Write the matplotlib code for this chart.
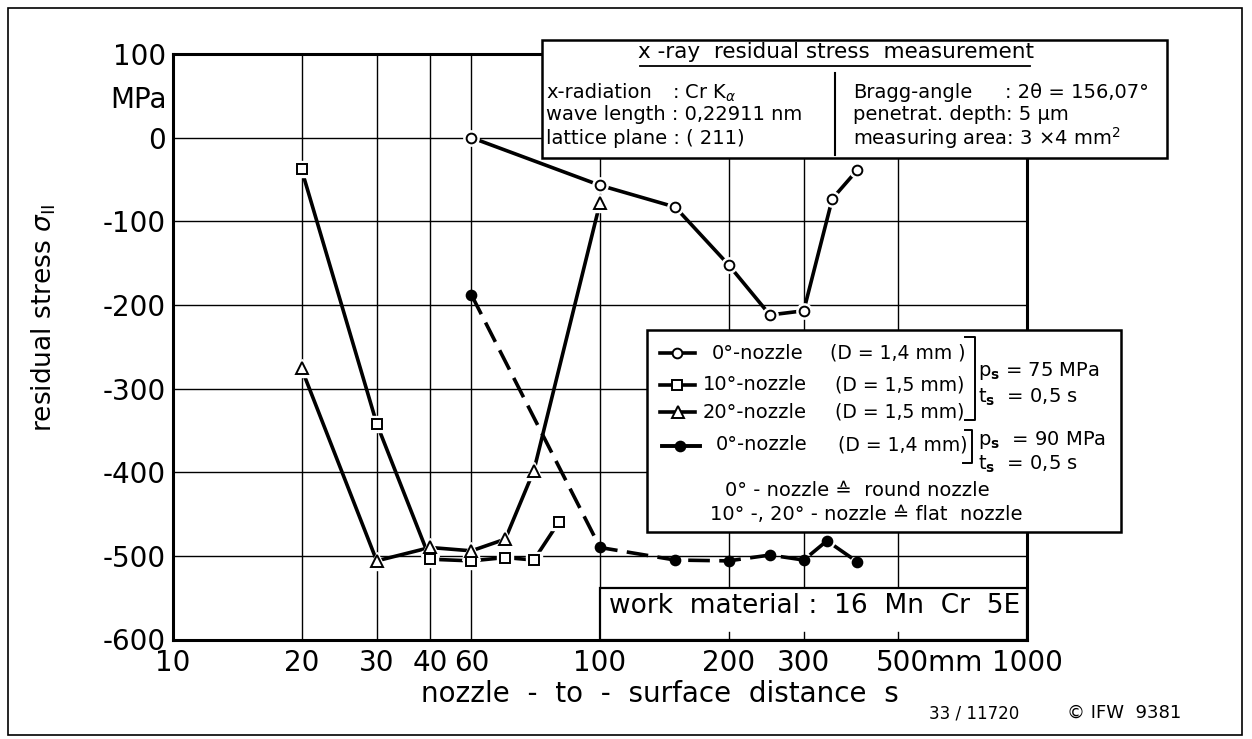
import matplotlib
matplotlib.use('Agg')
import matplotlib.pyplot as plt
import matplotlib.transforms as mtransforms
from matplotlib.patches import Rectangle
from matplotlib.lines import Line2D
from matplotlib.ticker import NullLocator

plt.rcParams['font.family'] = ['DejaVu Sans']
plt.rcParams['mathtext.fontset'] = 'dejavusans'

# ---------------- data ----------------
x_ticks = [10, 20, 30, 40, 50, 100, 200, 300, 500, 1000]
x_tick_labels = ['10', '20', '30', '40', '60', '100', '200', '300', '500mm', '1000']
y_ticks = [-600, -500, -400, -300, -200, -100, 0, 100]
y_tick_labels = ['-600', '-500', '-400', '-300', '-200', '-100', '0', '100']

# 0°-nozzle (D = 1,4 mm), p_s = 75 MPa
nozzle0_75_x = [50, 100, 150, 200, 250, 300, 350, 400]
nozzle0_75_y = [0, -57, -83, -152, -212, -207, -73, -39]
# 10°-nozzle (D = 1,5 mm), p_s = 75 MPa
nozzle10_x = [20, 30, 40, 50, 60, 70, 80]
nozzle10_y = [-38, -342, -504, -506, -502, -505, -460]
# 20°-nozzle (D = 1,5 mm), p_s = 75 MPa
nozzle20_x = [20, 30, 40, 50, 60, 70, 100]
nozzle20_y = [-276, -506, -490, -494, -480, -398, -78]
# 0°-nozzle (D = 1,4 mm), p_s = 90 MPa
nozzle0_90_x = [50, 100, 150, 200, 250, 300, 340, 400]
nozzle0_90_y = [-188, -490, -505, -506, -499, -505, -482, -507]

# ---------------- figure ----------------
W, H = 1252, 739
fig = plt.figure(figsize=(W / 100, H / 100), dpi=100)
fig.patch.set_facecolor('white')


def fx(p):
    return p / W


def fy(p):
    return 1 - p / H


ax = fig.add_axes([fx(173), fy(639.5), fx(1027) - fx(173), fy(54) - fy(639.5)])
ax.set_xscale('log')
ax.set_xlim(10, 1000)
ax.set_ylim(-600, 100)
ax.set_xticks(x_ticks)
ax.set_xticklabels(x_tick_labels, fontsize=20)
ax.xaxis.set_minor_locator(NullLocator())
ax.set_yticks(y_ticks)
ax.set_yticklabels(y_tick_labels, fontsize=20)
ax.grid(True, color='black', lw=1.0)
ax.tick_params(axis='x', direction='in', length=0, pad=7)
ax.tick_params(axis='y', length=0, pad=5)
for s in ax.spines.values():
    s.set_linewidth(2.2)

# shift "500mm" so that "500" is centred on its grid line
lab = ax.get_xticklabels()[8]
lab.set_ha('left')
lab.set_transform(lab.get_transform() +
                  mtransforms.ScaledTranslation(-0.23, 0, fig.dpi_scale_trans))


def series(x, y, marker, ms, filled, dashes=None):
    kw = dict(color='black', lw=2.6, solid_capstyle='butt', dash_capstyle='butt', zorder=3)
    if dashes is not None:
        ax.plot(x, y, ls='--', dashes=dashes, **kw)
    else:
        ax.plot(x, y, **kw)
    if not filled:
        ax.plot(x, y, ls='none', marker=marker, ms=ms + 4, mfc='white', mec='white', zorder=4)
    ax.plot(x, y, ls='none', marker=marker, ms=ms, mfc='black' if filled else 'white',
            mec='black', mew=1.4, zorder=5)


series(nozzle0_75_x, nozzle0_75_y, 'o', 7, False)
series(nozzle10_x, nozzle10_y, 's', 7, False)
series(nozzle20_x, nozzle20_y, '^', 8.5, False)
series(nozzle0_90_x, nozzle0_90_y, 'o', 7, True, dashes=(6, 2.6))

# work material box (bottom right inside the axes)
blend = mtransforms.blended_transform_factory(ax.transData, ax.transAxes)
wm = Rectangle((100, 0), 1000 - 100, (639.5 - 588) / (639.5 - 54),
               transform=blend, facecolor='white', edgecolor='black', lw=1.6, zorder=6)
ax.add_patch(wm)
for xt in [200, 300, 500]:
    ax.plot([xt, xt], [0, 0.012], color='black', lw=1.0, zorder=7, transform=blend)
fig.text(fx(815), fy(606), 'work  material :  16  Mn  Cr  5E', fontsize=19,
         ha='center', va='center', zorder=8)

# MPa unit under 100
fig.text(fx(167), fy(100), 'MPa', fontsize=20, ha='right', va='center')

# axis labels
fig.text(fx(660), fy(694), 'nozzle  -  to  -  surface  distance  s', fontsize=20,
         ha='center', va='center')
fig.text(fx(44), fy(318), r'residual stress $\sigma_{\mathrm{II}}$', fontsize=19,
         rotation=90, ha='center', va='center')

# footer
fig.text(fx(974), fy(713), '33 / 11720', fontsize=12, ha='center', va='center')
fig.text(fx(1124), fy(713), '© IFW  9381', fontsize=13, ha='center', va='center')


def box(x0, y0, x1, y1, lw=1.8):
    r = Rectangle((fx(x0), fy(y1)), fx(x1) - fx(x0), fy(y0) - fy(y1), transform=fig.transFigure,
                  facecolor='white', edgecolor='black', lw=lw, zorder=10)
    fig.add_artist(r)


def fline(xs, ys, lw=1.5, **kw):
    fig.add_artist(Line2D([fx(v) for v in xs], [fy(v) for v in ys], transform=fig.transFigure,
                          color='black', lw=lw, zorder=11, **kw))


def ftext(x, y, s, size=14, ha='left', **kw):
    fig.text(fx(x), fy(y), s, fontsize=size, ha=ha, va='center', zorder=12, **kw)


# ---- info box ----
box(542, 40, 1167, 158)
ftext(836, 52, 'x -ray  residual stress  measurement', size=15.5, ha='center')
fline([640, 1030], [66, 66], lw=1.3)
fline([835, 835], [73, 155], lw=1.5)
ftext(546, 93, 'x-radiation')
ftext(672, 93, r': Cr K$_\alpha$')
ftext(546, 115, 'wave length : 0,22911 nm')
ftext(546, 138, 'lattice plane : ( 211)')
ftext(853, 93, 'Bragg-angle')
ftext(1005, 93, ': 2θ = 156,07°')
ftext(853, 115, 'penetrat. depth: 5 µm')
ftext(853, 138, r'measuring area: 3 $\times$4 mm$^{2}$')

# ---- legend box ----
box(647, 330, 1121, 532)
lsize = 14
dsize = 13.5
# sample lines
fline([660, 695], [353, 353], lw=2.6)
fig.add_artist(Line2D([fx(677)], [fy(353)], transform=fig.transFigure, marker='o', ms=7,
                      mfc='white', mec='black', mew=1.4, zorder=12, ls='none'))
fline([660, 695], [385, 385], lw=2.6)
fig.add_artist(Line2D([fx(677)], [fy(385)], transform=fig.transFigure, marker='s', ms=7,
                      mfc='white', mec='black', mew=1.4, zorder=12, ls='none'))
fline([660, 695], [412, 412], lw=2.6)
fig.add_artist(Line2D([fx(678)], [fy(412)], transform=fig.transFigure, marker='^', ms=8.5,
                      mfc='white', mec='black', mew=1.4, zorder=12, ls='none'))
fline([662, 700], [446, 446], lw=2.8)
fig.add_artist(Line2D([fx(680)], [fy(446)], transform=fig.transFigure, marker='o', ms=7,
                      mfc='black', mec='black', mew=1.4, zorder=12, ls='none'))

ftext(712, 353, '0°-nozzle', size=lsize)
ftext(830, 353, '(D = 1,4 mm )', size=dsize)
ftext(703, 385, '10°-nozzle', size=lsize)
ftext(835, 385, '(D = 1,5 mm)', size=dsize)
ftext(703, 412, '20°-nozzle', size=lsize)
ftext(835, 412, '(D = 1,5 mm)', size=dsize)
ftext(716, 445, '0°-nozzle', size=lsize)
ftext(838, 445, '(D = 1,4 mm)', size=dsize)

# brackets
fline([965, 975, 975, 965], [337, 337, 420, 420], lw=1.4)
fline([965, 972, 972, 963], [430, 430, 463, 463], lw=1.4)
ftext(978, 371, r'p$_{\mathbf{s}}$ = 75 MPa', size=lsize)
ftext(978, 397, r't$_{\mathbf{s}}$  = 0,5 s', size=lsize)
ftext(978, 440, r'p$_{\mathbf{s}}$  = 90 MPa', size=lsize)
ftext(978, 464, r't$_{\mathbf{s}}$  = 0,5 s', size=lsize)

ftext(857, 490, '0° - nozzle ≙  round nozzle', size=lsize, ha='center')
ftext(866, 515, '10° -, 20° - nozzle ≙ flat  nozzle', size=lsize, ha='center')

# outer frame
fig.add_artist(Rectangle((fx(8), fy(735)), fx(1242) - fx(8), fy(8) - fy(735),
                         transform=fig.transFigure, facecolor='none', edgecolor='black',
                         lw=1.2, zorder=0))

fig.savefig('out.png', dpi=100)
